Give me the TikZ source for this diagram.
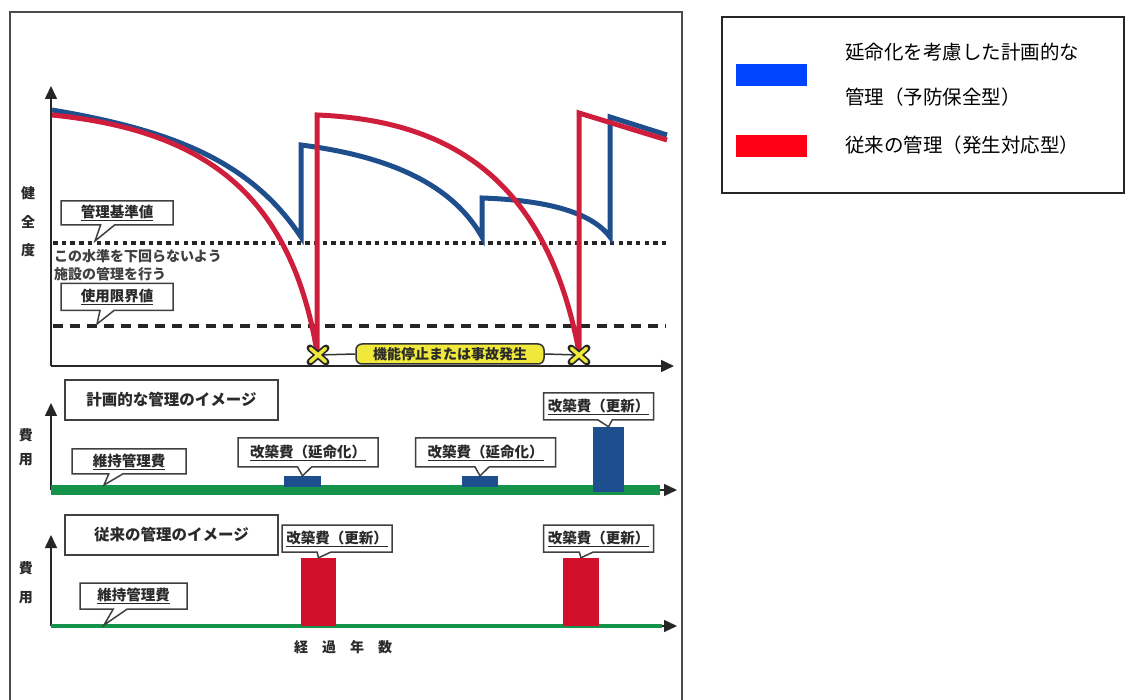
\documentclass[tikz,border=0pt]{standalone}
\usepackage{fontspec}
\newfontfamily\jp{Noto Sans CJK JP}
\usetikzlibrary{arrows.meta,shapes.callouts,shapes.misc}
\definecolor{cblue}{HTML}{1F4E8C}
\definecolor{cred}{HTML}{CF1E3C}
\definecolor{lblue}{HTML}{0044FF}
\definecolor{lred}{HTML}{FF0014}
\definecolor{cgreen}{HTML}{15934A}
\definecolor{cyel}{HTML}{F0E83A}
\definecolor{bblue}{HTML}{1D4F8E}
\definecolor{bred}{HTML}{D3102C}
\definecolor{ink}{HTML}{2A2A2A}
\newcommand\lblfont{\jp\bfseries\fontsize{14.5}{16}\selectfont}
\newcommand\axfont{\jp\bfseries\fontsize{14}{16}\selectfont}
\newcommand\ttlfont{\jp\bfseries\fontsize{15.5}{17}\selectfont}
\begin{document}
\begin{tikzpicture}[x=1pt,y=-1pt,
  lbl/.style={font=\axfont, text=ink, inner sep=0pt},
  cbox/.style={rectangle callout, draw=black!75, line width=1.5pt, fill=white,
    inner sep=0pt, callout pointer width=14pt, font=\lblfont, text=ink},
  tbox/.style={rectangle, draw=black!75, line width=1.5pt, fill=white,
    inner sep=0pt, font=\ttlfont, text=ink},
  axis/.style={line width=1.6pt, black!85, -{Triangle[width=12pt,length=13pt]}},
  curveb/.style={line width=5pt, cblue, line join=miter},
  curver/.style={line width=5pt, cred, line join=miter},
  bar/.style={inner sep=0pt, draw=none},
  legtxt/.style={font=\jp\fontsize{19.5}{22}\selectfont, text=black, inner sep=0pt, anchor=west},
  xmark/.pic={
    \draw[line width=7pt, black!85, line cap=round] (-8,-7) -- (8,7) (-8,7) -- (8,-7);
    \draw[line width=3.5pt, cyel, line cap=round] (-7.5,-6.5) -- (7.5,6.5) (-7.5,6.5) -- (7.5,-6.5);
  }]
\fill[white] (0,0) rectangle (1125,700);
\useasboundingbox (0,0) rectangle (1125,700);

% outer frame
\draw[line width=2pt, black!70] (10,705) -- (10,12) -- (682,12) -- (682,705);

% legend
\node[draw=black!85, line width=2pt, minimum width=402pt, minimum height=176pt, inner sep=0pt] (legend) at (923,105) {};
\node[bar, fill=lblue, minimum width=71pt, minimum height=22pt] (lb) at (771.5,75) {};
\node[bar, fill=lred, minimum width=71pt, minimum height=22pt] (lr) at (771.5,146) {};
\node[legtxt] (lt1) at (845,52) {延命化を考慮した計画的な};
\node[legtxt] (lt2) at (845,97) {管理（予防保全型）};
\node[legtxt] (lt3) at (845,145) {従来の管理（発生対応型）};

% ---------- top chart ----------
\coordinate (o1) at (51,366);
\coordinate (y1) at (51,86);
\coordinate (e1) at (674,366);
\draw[axis] (o1) -- (y1);
\draw[axis] (o1) -- (e1);
\node[lbl] (ken) at (28,193) {健};
\node[lbl] (zen) at (28,222) {全};
\node[lbl] (do) at (28,250) {度};

\draw[line width=4.5pt, black!85, dash pattern=on 4.5pt off 4.2pt] (53,243) -- (666,243);
\draw[line width=3.4pt, black!85, dash pattern=on 10pt off 7pt] (53,326) -- (666,326);

\draw[curveb] (52,110) .. controls (170,130) and (250,160) .. (301,237) -- (301,145)
  .. controls (380,155) and (450,180) .. (482,237) -- (482,198)
  .. controls (540,200) and (590,210) .. (610,237) -- (610,117) -- (667,135);
\draw[curver] (52,115) .. controls (200,130) and (290,190) .. (317,352) -- (317,115)
  .. controls (440,120) and (545,170) .. (579,352) -- (579,113) -- (667,140);

\node[cbox, minimum width=112pt, minimum height=24pt, callout absolute pointer={(95,241)}] (kijun) at (117,213) {\underline{管理基準値}};
\node[lbl, anchor=west, text=black!75] (t1) at (54,256) {この水準を下回らないよう};
\node[lbl, anchor=west, text=black!75] (t2) at (54,274) {施設の管理を行う};
\node[cbox, minimum width=112pt, minimum height=27pt, callout absolute pointer={(97,324)}] (genkai) at (117,297) {\underline{使用限界値}};

\coordinate (x1) at (318,355);
\coordinate (x2) at (579,355);
\node[rectangle, rounded corners=6pt, fill=cyel, draw=black!80, line width=1.5pt, minimum width=188pt, minimum height=20pt, inner sep=0pt, font=\jp\bfseries\fontsize{14}{15}\selectfont, text=ink] (stop) at (450,354) {機能停止または事故発生};
\draw[line width=1.5pt, black!80] (x1) -- (stop.west);
\draw[line width=1.5pt, black!80] (stop.east) -- (x2);
\pic at (x1) {xmark};
\pic at (x2) {xmark};

% ---------- middle chart ----------
\coordinate (o2) at (51,490);
\coordinate (y2) at (51,403);
\coordinate (e2) at (677,490);
\coordinate (g2) at (660,490);
\draw[axis] (o2) -- (y2);
\draw[axis] (o2) -- (e2);
\draw[line width=10pt, cgreen] (o2) -- (g2);
\node[lbl] (hi1) at (26,435) {費};
\node[lbl] (yo1) at (26,460) {用};
\node[tbox, minimum width=213pt, minimum height=40pt] (keikaku) at (171.5,400) {計画的な管理のイメージ};
\node[bar, fill=bblue, minimum width=37pt, minimum height=11pt] (bb1) at (302.5,481.5) {};
\node[bar, fill=bblue, minimum width=36pt, minimum height=11pt] (bb2) at (480,481.5) {};
\node[bar, fill=bblue, minimum width=31pt, minimum height=65pt] (bb3) at (608.5,459.5) {};
\node[cbox, minimum width=114pt, minimum height=25pt, callout absolute pointer={(104,485)}] (iji1) at (129,461.5) {\underline{維持管理費}};
\node[cbox, minimum width=140pt, minimum height=29pt, callout absolute pointer={(bb1.north)}] (kai1) at (308,452.5) {\underline{改築費（延命化）}};
\node[cbox, minimum width=140pt, minimum height=29pt, callout absolute pointer={(bb2.north)}] (kai2) at (485.5,452.5) {\underline{改築費（延命化）}};
\node[cbox, minimum width=110pt, minimum height=27pt, callout absolute pointer={(bb3.north)}] (kou1) at (598.5,406.5) {\underline{改築費（更新）}};

% ---------- bottom chart ----------
\coordinate (o3) at (51,626);
\coordinate (y3) at (51,535);
\coordinate (e3) at (677,626);
\coordinate (g3) at (662,626);
\draw[axis] (o3) -- (y3);
\draw[axis] (o3) -- (e3);
\draw[line width=4pt, cgreen] (o3) -- (g3);
\node[lbl] (hi2) at (26,568) {費};
\node[lbl] (yo2) at (26,598) {用};
\node[tbox, minimum width=213pt, minimum height=40pt] (juurai) at (171.5,535) {従来の管理のイメージ};
\node[bar, fill=bred, minimum width=35pt, minimum height=68pt] (rb1) at (318.5,592) {};
\node[bar, fill=bred, minimum width=36pt, minimum height=68pt] (rb2) at (581,592) {};
\node[cbox, minimum width=107pt, minimum height=26pt, callout absolute pointer={(104,625)}] (iji2) at (133.5,596) {\underline{維持管理費}};
\node[cbox, minimum width=110pt, minimum height=27pt, callout absolute pointer={(rb1.north)}] (kou2) at (337,538.5) {\underline{改築費（更新）}};
\node[cbox, minimum width=110pt, minimum height=27pt, callout absolute pointer={(rb2.north)}] (kou3) at (598.5,538.5) {\underline{改築費（更新）}};
\node[lbl] (keika) at (343,647) {経\hspace{14pt}過\hspace{14pt}年\hspace{14pt}数};
\end{tikzpicture}
\end{document}
